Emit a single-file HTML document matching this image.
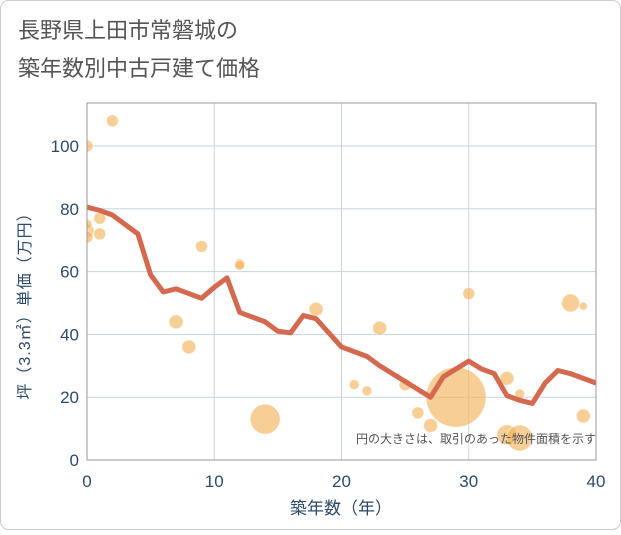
<!DOCTYPE html>
<html><head><meta charset="utf-8"><style>
body{margin:0;background:#fff}
svg{font-family:"Liberation Sans","Noto Sans CJK JP",sans-serif}
</style></head><body>
<svg width="621" height="530" viewBox="0 0 621 530">
<defs><clipPath id="pc"><rect x="87" y="103" width="509" height="357"/></clipPath></defs>
<rect x="0.5" y="0.5" width="620" height="529" rx="8" fill="#fff" stroke="#ccc"/>
<text x="18" y="38" font-size="22" fill="#555">長野県上田市常磐城の</text>
<text x="18" y="76" font-size="22" fill="#555">築年数別中古戸建て価格</text>
<g id="grid"></g>
<g id="bubbles" clip-path="url(#pc)"></g>
<g id="line" clip-path="url(#pc)"></g>
<g id="axes"></g>
<text x="596" y="443" font-size="12" fill="#555" text-anchor="end">円の大きさは、取引のあった物件面積を示す</text>
<text x="341" y="514" font-size="17" fill="#2d4a6a" text-anchor="middle">築年数（年）</text>
<text transform="translate(30,302) rotate(-90)" font-size="16" fill="#2d4a6a" text-anchor="middle" letter-spacing="1">坪（3.3㎡）単価（万円）</text>
</svg>
<script>
const xTicks=[0,10,20,30,40];
const yTicks=[0,20,40,60,80,100];
const lineYears=[0,1,2,3,4,5,6,7,8,9,10,11,12,13,14,15,16,17,18,19,20,21,22,23,24,25,26,27,28,29,30,31,32,33,34,35,36,37,38,39,40];
const lineValues=[80.5,79.5,78,75,72,59,53.5,54.5,53,51.5,55,58,47,45.5,44,41,40.5,46,45,40.5,36,34.5,33,30,27.5,25,22.5,20,26.5,29,31.5,29,27.5,20.5,19,18,24.5,28.5,27.5,26,24.5];
const bubbleX=[0,2,0,0,1,1,0,9,12,12,7,8,14,18,21,22,23,25,26,27,29,30,33,34,33,34,38,39,39];
const bubbleY=[100,108,73,71,77,72,75,68,62.5,62,44,36,13,48,24,22,42,24,15,11,20,53,26,21,8,7,50,49,14];
const bubbleR=[6,6,7,6,6,6,5,6,5,5,7,7,15,7,5,5,7,6,6,7,30,6,7,5,10,13,9,4,7];
const NS="http://www.w3.org/2000/svg";
const X0=87,X1=596,Y0=460,Y1=146,TOP=103;
const xs=v=>X0+(v-0)/(40-0)*(X1-X0);
const ys=v=>Y0-(v-0)/(100-0)*(Y0-Y1);
function mk(t,a,p){const e=document.createElementNS(NS,t);for(const k in a)e.setAttribute(k,a[k]);p.appendChild(e);return e;}
const grid=document.getElementById('grid'),axes=document.getElementById('axes');
xTicks.forEach(t=>{
 const l=mk('line',{x1:xs(t),x2:xs(t),y1:TOP,y2:Y0,stroke:'#c5d5e3','stroke-width':1},grid);
 
 
 const tx=mk('text',{x:xs(t),y:Y0+27,'font-size':17,fill:'#2d4a6a','text-anchor':'middle'},axes);
 tx.textContent=t;
 
 
});
yTicks.forEach(t=>{
 const l=mk('line',{x1:X0,x2:X1,y1:ys(t),y2:ys(t),stroke:'#c5d5e3','stroke-width':1},grid);
 
 
 const tx=mk('text',{x:X0-8,y:ys(t)+6,'font-size':17,fill:'#2d4a6a','text-anchor':'end'},axes);
 tx.textContent=t;
 
 
});
const fr=mk('rect',{x:X0,y:TOP,width:X1-X0,height:Y0-TOP,fill:'none',stroke:'#999','stroke-width':1},axes);


const bg=document.getElementById('bubbles');
bubbleX.forEach((x,i)=>{
 const c=mk('circle',{cx:xs(x),cy:ys(bubbleY[i]),r:bubbleR[i],fill:'#f3b65e','fill-opacity':0.65,stroke:'#fff','stroke-opacity':0.5},bg);
 
 
});
const p=mk('polyline',{points:lineYears.map((x,i)=>xs(x)+','+ys(lineValues[i])).join(' '),fill:'none',stroke:'#d4694f','stroke-width':5,'stroke-linejoin':'round'},document.getElementById('line'));


</script>
</body></html>
